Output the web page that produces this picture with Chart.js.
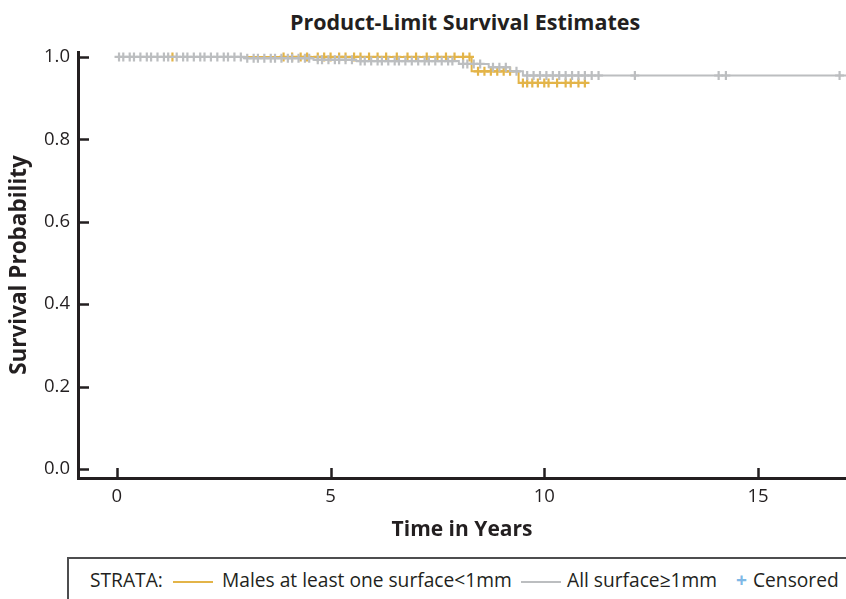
<!DOCTYPE html>
<html>
<head>
<meta charset="utf-8">
<script src="https://cdn.jsdelivr.net/npm/chart.js@4.4.1/dist/chart.umd.min.js"></script>
<style>
  html, body { margin: 0; padding: 0; background: #fff; }
  body { width: 846px; height: 599px; position: relative; overflow: hidden; font-family: "Open Sans", "Noto Sans", sans-serif; color: #231f20; }
  #wrap { position: absolute; left: 0; top: 0; width: 846px; height: 548px; }
  #title { position: absolute; top: 7px; left: 465px; transform: translateX(-50%); white-space: nowrap; font-weight: 700; font-size: 21.5px; }
  #legend { position: absolute; left: 67px; top: 557px; width: 820px; height: 60px; border: 2px solid #4d4d4f; box-sizing: border-box; font-size: 19.2px; }
  #legend span { position: absolute; top: 7px; white-space: nowrap; }
  .swatch { display: inline-block; width: 40px; height: 2px; vertical-align: middle; }
</style>
</head>
<body>
<div id="title">Product-Limit Survival Estimates</div>
<div id="wrap"><canvas id="km" width="846" height="548"></canvas></div>
<div id="legend">
  <span style="left:21px">STRATA:</span>
  <span style="left:104px"><i class="swatch" style="background:#e3b448"></i></span>
  <span style="left:153px">Males at least one surface&lt;1mm</span>
  <span style="left:452px"><i class="swatch" style="background:#bcbec0"></i></span>
  <span style="left:498px">All surface≥1mm</span>
  <span style="left:667px; color:#7fb8e6; font-weight:700">+</span>
  <span style="left:684px">Censored</span>
</div>
<script>
// ---- data ----
const xTicks = [0, 5, 10, 15];
const yTicks = [0.0, 0.2, 0.4, 0.6, 0.8, 1.0];

// step points (time in years, survival)
const maleTimes = [0, 8.3, 9.4, 11.05];
const maleSurv  = [1.0, 0.965, 0.937, 0.937];

const allTimes = [0, 3.0, 4.6, 5.6, 8.0, 8.7, 9.2, 9.5, 17.2];
const allSurv  = [1.0, 0.997, 0.993, 0.99, 0.983, 0.975, 0.965, 0.955, 0.955];

// censored times
const maleCensor = [1.3, 3.9, 4.1, 4.3, 4.45, 4.7, 4.85, 5.0, 5.2, 5.35, 5.55, 5.7, 5.9, 6.1, 6.3,
  6.55, 6.8, 7.0, 7.25, 7.5, 7.7, 7.9, 8.1, 8.25, 8.45, 8.6, 8.75, 8.9, 9.05, 9.2,
  9.5, 9.6, 9.72, 9.85, 10.0, 10.1, 10.3, 10.5, 10.62, 10.8, 10.95];
const allCensor = [0.05, 0.15, 0.3, 0.4, 0.55, 0.7, 0.8, 0.95, 1.1, 1.2, 1.4, 1.55, 1.65, 1.8, 1.95,
  2.05, 2.2, 2.35, 2.5, 2.6, 2.75, 2.9, 3.05, 3.2, 3.3, 3.45, 3.6, 3.7, 3.85, 4.0, 4.1, 4.25,
  4.4, 4.5, 4.7, 4.8, 4.95, 5.1, 5.2, 5.35, 5.5, 5.7, 5.8, 5.95, 6.1, 6.2, 6.35, 6.5, 6.6,
  6.75, 6.9, 7.05, 7.2, 7.3, 7.45, 7.6, 7.75, 7.85, 8.1, 8.2, 8.35, 8.5, 8.8, 8.95, 9.1,
  9.35, 9.6, 9.75, 9.9, 10.05, 10.2, 10.35, 10.5, 10.65, 10.8, 10.95, 11.11, 11.27, 12.12,
  14.08, 14.25, 16.91];

const yellow = "#e3b448";
const gray   = "#bcbec0";
const ink    = "#231f20";
const font   = "'Open Sans', 'Noto Sans', sans-serif";

function stepPoints(times, surv) {
    return times.map((t, i) => ({ x: t, y: surv[i] }));
}

// survival value at time t from a step curve
function survAt(times, surv, t) {
    let s = surv[0];
    for (let i = 0; i < times.length; i++) {
        if (times[i] <= t) s = surv[i];
    }
    return s;
}

function censorPoints(cens, times, surv) {
    return cens.map(t => ({ x: t, y: survAt(times, surv, t) }));
}

// inward tick marks like the SAS plot
const innerTicks = {
    id: "innerTicks",
    afterDraw(chart) {
        const ctx = chart.ctx;
        const area = chart.chartArea;
        const xs = chart.scales.x, ys = chart.scales.y;
        ctx.save();
        ctx.strokeStyle = ink;
        ctx.lineWidth = 2.5;
        ctx.beginPath();
        yTicks.forEach(v => {
            const py = Math.round(ys.getPixelForValue(v)) + 0.5;
            ctx.moveTo(area.left, py);
            ctx.lineTo(area.left + 11, py);
        });
        xTicks.forEach(v => {
            const px = Math.round(xs.getPixelForValue(v)) + 0.5;
            ctx.moveTo(px, area.bottom);
            ctx.lineTo(px, area.bottom - 10);
        });
        ctx.stroke();
        ctx.restore();
    }
};

new Chart(document.getElementById("km"), {
    type: "scatter",
    data: {
        datasets: [
            {
                label: "All surface≥1mm",
                data: stepPoints(allTimes, allSurv),
                showLine: true,
                stepped: "before",
                borderColor: gray,
                borderWidth: 2,
                pointRadius: 0
            },
            {
                label: "All censored",
                data: censorPoints(allCensor, allTimes, allSurv),
                pointStyle: "cross",
                pointRadius: 4.5,
                borderColor: gray,
                borderWidth: 2.2
            },
            {
                label: "Males at least one surface<1mm",
                data: stepPoints(maleTimes, maleSurv),
                showLine: true,
                stepped: "before",
                borderColor: yellow,
                borderWidth: 2,
                pointRadius: 0
            },
            {
                label: "Males censored",
                data: censorPoints(maleCensor, maleTimes, maleSurv),
                pointStyle: "cross",
                pointRadius: 4.5,
                borderColor: yellow,
                borderWidth: 2.2
            }
        ]
    },
    options: {
        responsive: false,
        animation: false,
        clip: false,
        layout: { autoPadding: false, padding: { top: 52, right: 0, left: 0, bottom: 0 } },
        plugins: {
            legend: { display: false },
            tooltip: { enabled: false }
        },
        scales: {
            x: {
                type: "linear",
                min: -0.91,
                max: 17.06,
                grid: { display: false, drawTicks: false },
                border: { display: true, color: ink, width: 3 },
                ticks: { color: ink, font: { family: font, size: 18.5 }, padding: 8 },
                afterBuildTicks: s => { s.ticks = xTicks.map(v => ({ value: v })); },
                afterFit: s => { s.height = 70; },
                title: {
                    display: true,
                    text: "Time in Years",
                    color: ink,
                    font: { family: font, size: 21, weight: "bold" },
                    padding: { top: 0, bottom: 5 }
                }
            },
            y: {
                type: "linear",
                min: -0.022,
                max: 1.012,
                grid: { display: false, drawTicks: false },
                border: { display: true, color: ink, width: 3 },
                ticks: {
                    color: ink,
                    font: { family: font, size: 18.5 },
                    padding: 8,
                    callback: v => v.toFixed(1)
                },
                afterBuildTicks: s => { s.ticks = yTicks.map(v => ({ value: v })); },
                afterFit: s => { s.width = 78; },
                title: {
                    display: true,
                    text: "Survival Probability",
                    color: ink,
                    font: { family: font, size: 22.5, weight: "bold" },
                    padding: { top: 6, bottom: 0 }
                }
            }
        }
    },
    plugins: [innerTicks]
});
</script>
</body>
</html>
